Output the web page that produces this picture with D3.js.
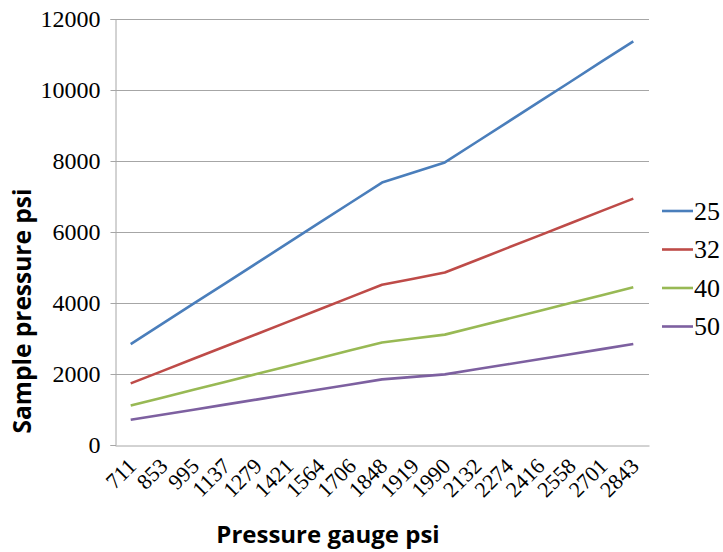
<!DOCTYPE html>
<html>
<head>
<meta charset="utf-8">
<script src="https://cdn.jsdelivr.net/npm/d3@7"></script>
<style>
  body { margin: 0; background: #fff; }
  .title { font-family: "Open Sans", sans-serif; font-weight: bold; fill: #000; }
</style>
</head>
<body>
<script>
const width = 723,
  height = 552,
  margin = { top: 19, right: 74, bottom: 107, left: 115 };

const numFont = "'Liberation Serif', 'DejaVu Serif', serif";

// Pressure gauge readings (x categories)
const gauge = ["711", "853", "995", "1137", "1279", "1421", "1564", "1706", "1848",
  "1919", "1990", "2132", "2274", "2416", "2558", "2701", "2843"];

const seriesNames = ["25", "32", "40", "50"];

// Sample pressure, one array per series
const s25 = [2844, 3412, 3980, 4548, 5116, 5684, 6256, 6824, 7392, 7676, 7960, 8528, 9096, 9664, 10232, 10804, 11372];
const s32 = [1736, 2082, 2428, 2775, 3122, 3469, 3818, 4165, 4512, 4685, 4858, 5205, 5552, 5898, 6245, 6594, 6941];
const s40 = [1111, 1333, 1555, 1777, 1998, 2220, 2444, 2666, 2888, 2998, 3109, 3331, 3553, 3775, 3997, 4220, 4442];
const s50 = [711, 853, 995, 1137, 1279, 1421, 1564, 1706, 1848, 1919, 1990, 2132, 2274, 2416, 2558, 2701, 2843];

const yTicks = [0, 2000, 4000, 6000, 8000, 10000, 12000];

const series = [s25, s32, s40, s50];
const colors = ["#4a7ebb", "#be4b48", "#98b954", "#7d60a0"];

const x = d3
  .scaleBand()
  .domain(gauge)
  .range([margin.left, width - margin.right]);

const y = d3
  .scaleLinear()
  .domain([0, 12000])
  .range([height - margin.bottom, margin.top]);

const svg = d3
  .select("body")
  .append("svg")
  .attr("width", width)
  .attr("height", height);

// Horizontal gridlines
svg
  .append("g")
  .selectAll("line")
  .data(yTicks.slice(1))
  .enter()
  .append("line")
  .attr("x1", margin.left)
  .attr("x2", width - margin.right)
  .attr("y1", (d) => Math.round(y(d)) + 0.5)
  .attr("y2", (d) => Math.round(y(d)) + 0.5)
  .attr("stroke", "#a6a6a6")
  .attr("stroke-width", 1);

// Y axis
const yAxis = svg
  .append("g")
  .attr("transform", `translate(${margin.left + 0.5},0)`)
  .call(d3.axisLeft(y).tickValues(yTicks).tickSize(5).tickPadding(10).tickFormat(d3.format("d")))
  .attr("font-family", numFont);
yAxis.selectAll("line, path").attr("stroke", "#a6a6a6");
yAxis.selectAll("text").style("font-family", numFont).style("font-size", "24px").attr("dy", "0.33em");

// X axis (labels rotated 45deg)
const xAxis = svg
  .append("g")
  .attr("transform", `translate(0,${Math.round(y(0)) + 0.5})`)
  .call(d3.axisBottom(x).tickSize(0).tickPadding(0))
  .attr("font-family", numFont);
xAxis.select("path").attr("stroke", "#a6a6a6");
xAxis
  .selectAll("text")
  .style("font-family", numFont)
  .style("font-size", "22px")
  .style("text-anchor", "end")
  .attr("dy", "0.7em")
  .attr("transform", "translate(-4,11) rotate(-45)");

// Lines
const line = d3
  .line()
  .x((d, i) => x(gauge[i]) + x.bandwidth() / 2)
  .y((d) => y(d));

svg
  .append("g")
  .selectAll("path")
  .data(series)
  .enter()
  .append("path")
  .attr("d", line)
  .attr("fill", "none")
  .attr("stroke", (d, i) => colors[i])
  .attr("stroke-width", 2.6)
  .attr("stroke-linejoin", "round");

// Legend
const legend = svg
  .append("g")
  .selectAll("g")
  .data(seriesNames)
  .enter()
  .append("g")
  .attr("transform", (d, i) => `translate(662,${211 + i * 38.5})`);

legend
  .append("line")
  .attr("x1", 0)
  .attr("x2", 31)
  .attr("stroke", (d, i) => colors[i])
  .attr("stroke-width", 2.6);

legend
  .append("text")
  .attr("x", 32)
  .attr("dy", "0.34em")
  .style("font-family", numFont)
  .style("font-size", "26px")
  .text((d) => d);

// Axis titles
svg
  .append("text")
  .attr("class", "title")
  .attr("transform", `translate(31,${(y(0) + y(12000)) / 2 + 79}) rotate(-90)`)
  .attr("text-anchor", "middle")
  .style("font-size", "24.5px")
  .text("Sample pressure psi");

svg
  .append("text")
  .attr("class", "title")
  .attr("x", 328)
  .attr("y", 543)
  .attr("text-anchor", "middle")
  .style("font-size", "24px")
  .text("Pressure gauge psi");
</script>
</body>
</html>
